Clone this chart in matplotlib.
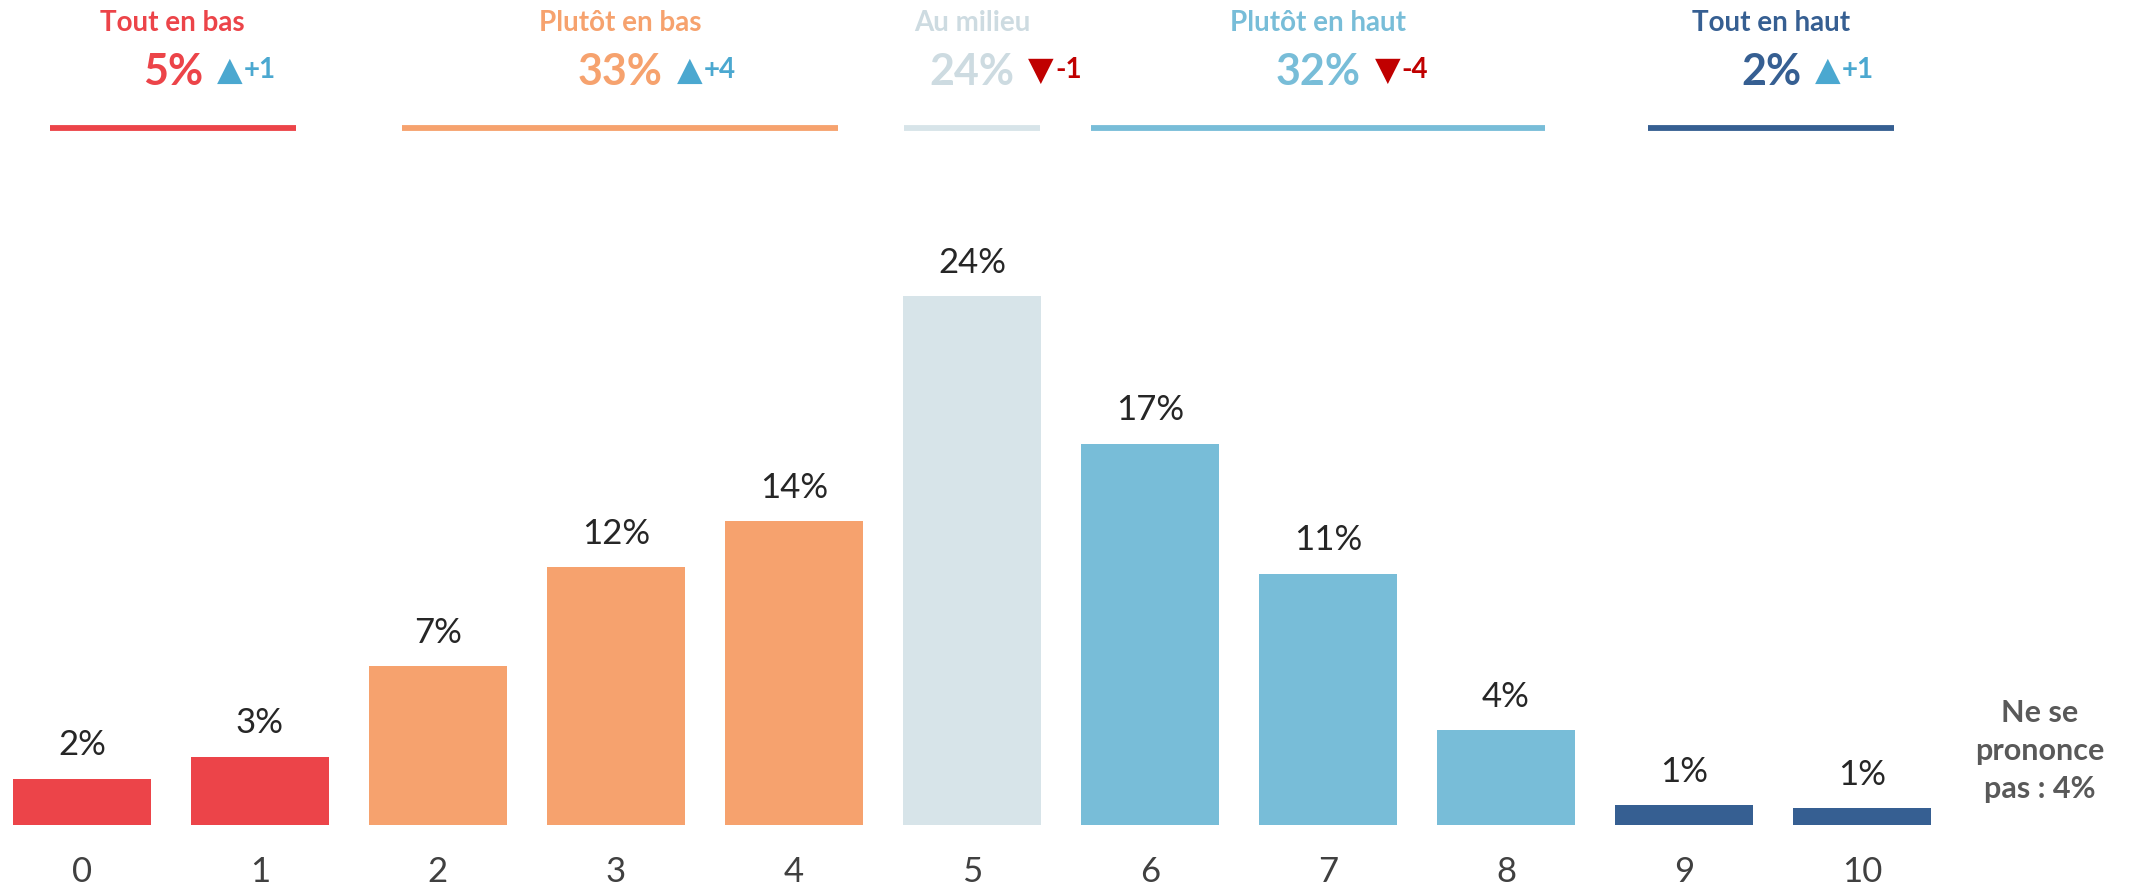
import matplotlib
matplotlib.use('Agg')
import matplotlib.pyplot as plt
import matplotlib.transforms as mtransforms

plt.rcParams['font.family'] = ['Lato', 'DejaVu Sans']

# data
scores = ['0', '1', '2', '3', '4', '5', '6', '7', '8', '9', '10']
values = [2.1, 3.1, 7.2, 11.7, 13.8, 24.0, 17.3, 11.4, 4.3, 0.9, 0.75]
bar_labels = ['2%', '3%', '7%', '12%', '14%', '24%', '17%', '11%', '4%', '1%', '1%']
bar_group = [0, 0, 1, 1, 1, 2, 3, 3, 3, 4, 4]

groups = ['Tout en bas', 'Plutôt en bas', 'Au milieu', 'Plutôt en haut', 'Tout en haut']
group_pct = [5, 33, 24, 32, 2]
group_delta = [1, 4, -1, -4, 1]
no_answer = 'Ne se\nprononce\npas : 4%'

bar_colors = ['#EC4449', '#F6A26E', '#D7E4E9', '#78BDD8', '#365F92']
title_colors = ['#EC4449', '#F6A26E', '#CDDBE1', '#78BDD8', '#365F92']
up_color = '#4BA8D0'
down_color = '#C00000'

# header line extents, in bar units
line_spans = [(-0.18, 1.2), (1.8, 4.25), (4.62, 5.38), (5.67, 8.22), (8.8, 10.18)]

fig = plt.figure(figsize=(21.38, 8.90), dpi=100)
ax = fig.add_axes([0, 65 / 890, 1, 675 / 890])
x = list(range(len(scores)))
ax.bar(x, values, width=0.775, color=[bar_colors[g] for g in bar_group])
ax.set_xlim(-0.46, 11.55)
ax.set_ylim(0, 675 / 22.04)

for xi, v, lab in zip(x, values, bar_labels):
    ax.annotate(lab, (xi, v), xytext=(0, 24), textcoords='offset points',
                ha='center', va='center', fontsize=25, color='#262626')

ax.set_xticks(x)
ax.set_xticklabels(scores, fontsize=25, color='#404040')
ax.tick_params(axis='x', length=0, pad=22)
ax.set_yticks([])
for s in ax.spines.values():
    s.set_visible(False)

blend = mtransforms.blended_transform_factory(ax.transData, fig.transFigure)
y_pct = 0.905
for i, name in enumerate(groups):
    a, b = line_spans[i]
    xc = (a + b) / 2
    ax.plot([a, b], [0.856, 0.856], transform=blend, color=bar_colors[i],
            lw=4.2, solid_capstyle='butt', clip_on=False)
    ax.text(xc, 0.974, name, transform=blend, ha='center', va='center',
            fontsize=20, fontweight='bold', color=title_colors[i])
    pct = ax.text(xc, y_pct, f'{group_pct[i]}%', transform=blend, ha='center',
                  va='baseline', fontsize=31, fontweight='bold', color=title_colors[i])
    d = group_delta[i]
    sym = '▲' if d > 0 else '▼'
    col = up_color if d > 0 else down_color
    tri = ax.annotate(sym, xy=(1, y_pct), xycoords=(pct, 'figure fraction'),
                      xytext=(10, 3), textcoords='offset points', ha='left',
                      va='baseline', fontsize=24, color=col, family='DejaVu Sans')
    ax.annotate(f'{d:+d}', xy=(1, y_pct), xycoords=(tri, 'figure fraction'),
                xytext=(1, 5), textcoords='offset points', ha='left',
                va='baseline', fontsize=20, fontweight='bold', color=col)

ax.text(11.0, 3.36, no_answer, ha='center', va='center', fontsize=22,
        fontweight='bold', color='#595959', linespacing=1.45)

fig.savefig('out.png', dpi=100)
